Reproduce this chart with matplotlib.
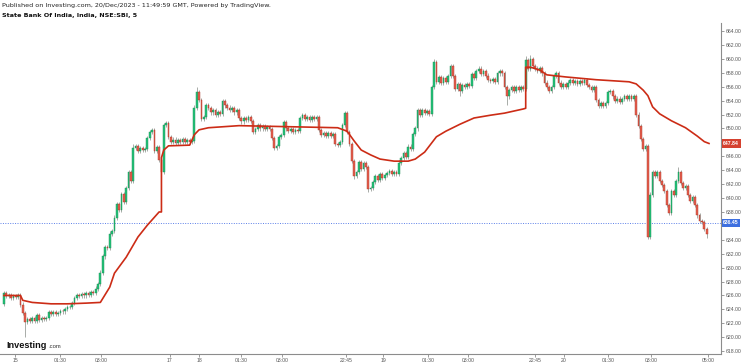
import matplotlib
matplotlib.use('Agg')
import matplotlib.pyplot as plt
import matplotlib.transforms as mtransforms
import numpy as np

######################## data ########################
first_open = 624.8
close = [626.3, 625.9, 626.0, 625.7, 625.9, 625.8, 626.0, 624.7, 623.5, 622.2,
         622.6, 622.3, 622.7, 622.4, 623.2, 622.5, 622.8, 622.6, 622.8, 623.6,
         623.4, 623.6, 623.3, 623.5, 623.8, 623.7, 624.1, 624.3, 624.4, 624.9,
         625.6, 626.1, 625.9, 626.2, 626.0, 626.3, 626.1, 626.5, 626.3, 627.0,
         627.7, 629.3, 631.6, 633.0, 632.8, 634.9, 635.3, 637.2, 639.2, 638.3,
         640.6, 639.5, 641.5, 643.8, 642.5, 647.2, 647.5, 646.8, 647.2, 646.9,
         647.0, 648.6, 649.5, 649.8, 646.7, 647.3, 645.5, 643.8, 650.5, 650.8,
         648.8, 648.1, 648.4, 647.9, 648.3, 648.0, 648.5, 648.0, 648.3, 648.0,
         648.2, 653.0, 655.2, 654.1, 651.4, 651.6, 653.4, 652.9, 652.3, 652.6,
         652.0, 652.3, 652.1, 653.9, 653.3, 653.0, 652.6, 652.9, 652.3, 652.6,
         651.5, 651.0, 651.5, 651.2, 651.6, 651.1, 649.5, 649.9, 650.5, 650.0,
         650.4, 649.9, 650.2, 649.9, 648.6, 647.2, 647.5, 648.8, 649.0, 650.9,
         650.0, 649.6, 649.9, 649.5, 649.8, 649.6, 651.5, 651.9, 651.3, 651.7,
         651.2, 651.6, 651.3, 651.7, 649.8, 649.1, 649.4, 648.9, 649.3, 648.9,
         649.2, 647.8, 647.6, 648.1, 650.5, 652.2, 649.5, 647.8, 645.3, 643.2,
         643.8, 645.2, 644.2, 645.0, 644.5, 641.3, 641.5, 642.3, 643.2, 642.6,
         643.4, 642.9, 643.3, 643.6, 643.9, 643.4, 643.8, 643.5, 645.1, 645.8,
         646.4, 645.9, 647.4, 647.0, 649.2, 650.0, 652.6, 652.0, 652.7, 652.2,
         652.5, 652.1, 656.0, 659.6, 656.7, 657.4, 656.6, 657.2, 656.7, 657.5,
         658.9, 657.5, 655.7, 656.4, 655.4, 656.3, 656.0, 656.4, 656.1, 657.8,
         657.3, 658.2, 658.6, 657.8, 658.3, 657.6, 657.0, 656.8, 657.1, 656.7,
         657.9, 658.3, 657.9, 656.0, 654.6, 655.5, 655.9, 655.4, 655.9, 655.5,
         656.0, 655.7, 659.8, 658.5, 660.0, 659.0, 658.6, 658.2, 658.7, 657.9,
         656.6, 656.0, 655.4, 655.9, 657.5, 657.9, 656.6, 656.0, 656.4, 655.9,
         656.6, 657.0, 656.5, 656.8, 656.4, 656.8, 656.5, 656.9, 656.3, 655.9,
         655.5, 655.9, 654.1, 653.2, 653.6, 653.2, 653.7, 655.2, 655.4, 654.6,
         653.9, 654.3, 653.8, 654.2, 654.6, 654.3, 654.7, 654.3, 654.6, 652.0,
         650.3, 648.5, 647.0, 647.5, 634.4, 640.5, 643.8, 643.2, 643.8, 642.5,
         641.9, 641.0, 639.0, 637.9, 641.0, 640.4, 642.5, 643.7, 642.2, 641.4,
         641.7, 640.4, 639.6, 640.2, 639.0, 637.5, 636.7, 636.5, 635.5, 634.8]

# long wicks that stand out (bar index -> price)
long_high = {82: 655.9, 145: 652.5, 183: 660.0, 190: 659.3, 222: 660.4,
             224: 660.5, 287: 644.4, 55: 647.8}
long_low = {9: 620.0, 155: 640.8, 194: 654.6, 214: 653.4, 274: 634.2,
            299: 634.3, 149: 642.8}

# moving VWAP-like line (bar index, price)
vwap_i = [0, 7, 8, 12, 20, 27, 35, 41, 45, 47, 52, 57, 61, 66, 67, 67, 68, 70,
          79, 81, 83, 87, 100, 114, 128, 142, 146, 149, 152, 156, 160, 166, 172,
          175, 179, 184, 188, 194, 200, 207, 213, 221, 222, 222, 224, 228, 231,
          239, 252, 266, 269, 272, 274, 276, 279, 284, 290, 295, 298, 300]
vwap_p = [626.0, 626.0, 625.3, 625.0, 624.8, 624.8, 624.9, 625.0, 627.2, 629.2,
          631.5, 634.4, 636.1, 638.0, 638.0, 645.8, 646.9, 647.5, 647.6, 649.1,
          649.8, 650.1, 650.4, 650.3, 650.2, 650.1, 649.6, 648.2, 646.9, 646.2,
          645.6, 645.3, 645.3, 645.6, 646.6, 648.8, 649.6, 650.6, 651.5, 651.9,
          652.2, 652.8, 652.9, 658.8, 658.8, 658.4, 657.7, 657.4, 657.0, 656.7,
          656.4, 655.5, 654.7, 653.1, 652.1, 651.1, 650.1, 648.9, 648.1, 647.84]

last_price = 636.45
last_vwap = 647.84

tick_pos = [4.7, 23.8, 41.3, 70.6, 83.0, 100.9, 118.3, 145.5, 161.3, 180.4,
            197.4, 226.0, 238.3, 257.0, 275.3, 299.6]
tick_lab = ['15', '01:30', '03:00', '17', '18', '01:30', '03:00', '22:45',
            '19', '01:30', '03:00', '22:45', '20', '01:30', '03:00', '05:00']
price_ticks = [p for p in range(618, 666, 2) if p not in (636, 648)]

########################### drawing #####################################
n = len(close)
idx = np.arange(n)
c = np.array(close)
o = np.concatenate([[first_open], c[:-1]])
hi = np.maximum(o, c) + 0.3
lo = np.minimum(o, c) - 0.3
for k, v in long_high.items():
    hi[k] = max(hi[k], v)
for k, v in long_low.items():
    lo[k] = min(lo[k], v)

up = c >= o
green_f, green_e = '#25c47a', '#168a50'
red_f, red_e = '#e6604f', '#a83325'
lab_font = 'Liberation Sans'

fig = plt.figure(figsize=(7.42, 3.64), dpi=100)
ax = fig.add_axes([0, 10 / 364, 721 / 742, 331 / 364])

ax.axhline(last_price, color='#5b7fe8', lw=0.7, ls=(0, (1, 1.5)), zorder=1)

ax.vlines(idx, lo, hi, color='#a8aca8', lw=0.7, zorder=2)
body_lo = np.minimum(o, c)
body_h = np.maximum(np.abs(c - o), 0.08)
ax.bar(idx[up], body_h[up], bottom=body_lo[up], width=0.75,
       color=green_f, edgecolor=green_e, lw=0.3, zorder=3)
ax.bar(idx[~up], body_h[~up], bottom=body_lo[~up], width=0.75,
       color=red_f, edgecolor=red_e, lw=0.3, zorder=3)

ax.plot(vwap_i, vwap_p, color='#cc2c16', lw=1.2, zorder=4)

ax.set_xlim(-1.7, 305.1)
ax.set_ylim(617.59, 665.15)

for s in ['left', 'top']:
    ax.spines[s].set_visible(False)
for s in ['right', 'bottom']:
    ax.spines[s].set_color('#8c8c8c')
    ax.spines[s].set_linewidth(0.8)

ax.yaxis.tick_right()
ax.set_yticks(price_ticks)
ax.set_yticklabels(['%.2f' % p for p in price_ticks], family=lab_font)
ax.set_xticks(tick_pos)
ax.set_xticklabels(tick_lab, family=lab_font)
ax.tick_params(axis='both', labelsize=3.7, labelcolor='#555555', color='#8c8c8c',
               length=2, width=0.6, pad=1.2)

# price tags on the right axis
trans = mtransforms.blended_transform_factory(ax.transAxes, ax.transData)
ax.text(1.003, last_vwap, '%.2f' % last_vwap, transform=trans, fontsize=3.7,
        color='white', fontweight='bold', va='center', ha='left', clip_on=False,
        family=lab_font,
        bbox=dict(boxstyle='square,pad=0.3', fc='#d5412f', ec='none'), zorder=6)
ax.text(1.003, last_price, '%.2f' % last_price, transform=trans, fontsize=3.7,
        color='white', fontweight='bold', va='center', ha='left', clip_on=False,
        family=lab_font,
        bbox=dict(boxstyle='square,pad=0.3', fc='#3d6fe0', ec='none'), zorder=6)

# header and logo
fig.text(2 / 742, 1 - 5 / 364,
         'Published on Investing.com, 20/Dec/2023 - 11:49:59 GMT, Powered by TradingView.',
         fontsize=4.6, color='#222222', va='center', ha='left')
fig.text(2 / 742, 1 - 15.5 / 364, 'State Bank Of India, India, NSE:SBI, 5',
         fontsize=4.6, color='#111111', fontweight='bold', va='center', ha='left')
fig.text(6 / 742, 1 - 348 / 364, 'Investing', fontsize=6.6, fontweight='bold',
         color='#111111', va='baseline', ha='left', family=lab_font)
fig.text(48 / 742, 1 - 348 / 364, '.com', fontsize=4.2, color='#333333',
         va='baseline', ha='left', family=lab_font)

fig.savefig('out.png', dpi=100)
